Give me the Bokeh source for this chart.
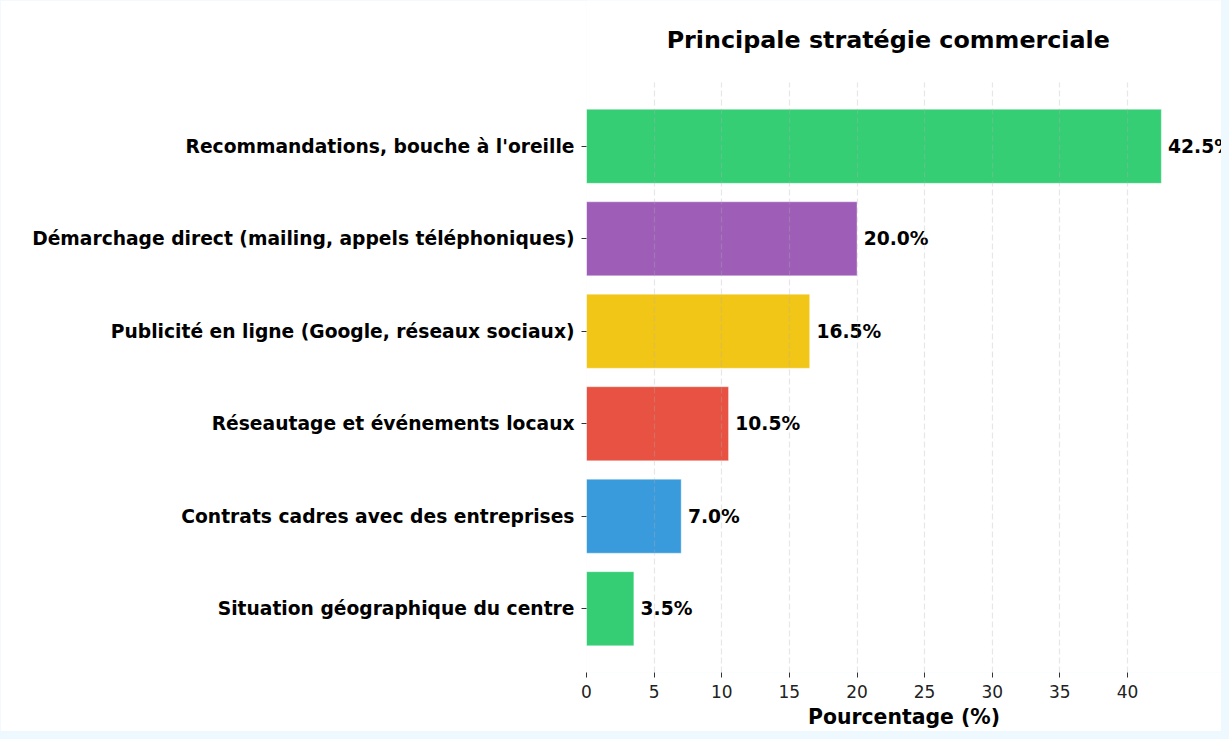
from bokeh.plotting import figure
from bokeh.models import ColumnDataSource, FixedTicker, Range1d, Label, Grid
from bokeh.core.properties import value
from bokeh.embed import file_html
from bokeh.resources import INLINE

title_text = "Principale stratégie commerciale"
x_label = "Pourcentage (%)"
categories = [
    "Situation géographique du centre",
    "Contrats cadres avec des entreprises",
    "Réseautage et événements locaux",
    "Publicité en ligne (Google, réseaux sociaux)",
    "Démarchage direct (mailing, appels téléphoniques)",
    "Recommandations, bouche à l'oreille",
]
values = [3.5, 7.0, 10.5, 16.5, 20.0, 42.5]
colors = ["#2ecc71", "#3498db", "#e74c3c", "#f1c40f", "#9b59b6", "#2ecc71"]
x_ticks = [0, 5, 10, 15, 20, 25, 30, 35, 40]

positions = list(range(len(categories)))
labels = [f"{v:.1f}%" for v in values]
label_x = [v + 0.5 for v in values]

src = ColumnDataSource(dict(y=positions, v=values, c=colors, lab=labels, lx=label_x))

FONT = "DejaVu Sans"

# layout (pixels)
W, H = 1221, 731
LEFT, BOTTOM = 586, 673
PX_PER_X = (1127 - 586) / 40.0        # px per percent
PX_PER_Y = (609 - 146) / 5.0          # px per category step
Y_PAD = 0.69                          # axes margin around bars (category units)
TOP_BAR_PX = 146
TITLE_PX = 40

y_lo = -Y_PAD
y_hi = (len(categories) - 1) + Y_PAD
y_top = (len(categories) - 1) + TOP_BAR_PX / PX_PER_Y   # frame reaches canvas top
axes_x_end = max(values) * 1.05

p = figure(
    width=W, height=H,
    output_backend="svg", toolbar_location=None,
    x_range=Range1d(0, (W - LEFT) / PX_PER_X),
    y_range=Range1d(y_lo, y_top),
    min_border_left=LEFT, min_border_right=0,
    min_border_top=0, min_border_bottom=H - BOTTOM,
)
p.outline_line_color = None
p.background_fill_color = "white"
p.border_fill_color = "white"

p.hbar(y="y", right="v", left=0, height=0.8, fill_color="c", fill_alpha=0.97,
       line_color="white", line_alpha=0.35, line_width=1, source=src)

p.text(x="lx", y="y", text="lab", source=src,
       text_font=value(FONT), text_font_style="bold",
       text_font_size="18.7px", text_baseline="middle",
       text_align="left", text_color="black")

p.add_layout(Label(
    x=axes_x_end / 2, y=(len(categories) - 1) + (TOP_BAR_PX - TITLE_PX) / PX_PER_Y,
    text=title_text, text_font=FONT, text_font_size="23.8px",
    text_font_style="bold", text_color="black",
    text_align="center", text_baseline="middle",
))

p.xaxis.ticker = FixedTicker(ticks=x_ticks)
p.xaxis.axis_label = x_label
p.xaxis.axis_label_text_font = FONT
p.xaxis.axis_label_text_font_size = "20.4px"
p.xaxis.axis_label_text_font_style = "bold"
p.xaxis.axis_label_text_color = "black"
p.xaxis.axis_label_standoff = 4
p.xaxis.major_label_text_font = FONT
p.xaxis.major_label_text_font_size = "17px"
p.xaxis.major_label_text_color = "#222222"
p.xaxis.major_label_standoff = 7

p.yaxis.ticker = FixedTicker(ticks=positions)
p.yaxis.major_label_overrides = {i: c for i, c in enumerate(categories)}
p.yaxis.major_label_text_font = FONT
p.yaxis.major_label_text_font_size = "18.7px"
p.yaxis.major_label_text_font_style = "bold"
p.yaxis.major_label_text_color = "black"
p.yaxis.major_label_standoff = 7

for ax in (p.xaxis, p.yaxis):
    ax.axis_line_color = None
    ax.major_tick_in = 0
    ax.major_tick_out = 5
    ax.major_tick_line_color = "#333333"
    ax.minor_tick_line_color = None

p.ygrid.grid_line_color = None
xg = p.xgrid[0]
xg.level = "annotation"
xg.grid_line_color = "#b0b0b0"
xg.grid_line_dash = "6 3"
xg.grid_line_alpha = 0.3
xg.grid_line_width = 1.2
if "cross_bounds" in xg.properties():
    xg.cross_bounds = (y_lo, y_hi)

html = file_html(p, INLINE)
html = html.replace("</head>", "<style>html, body { background: #eef8ff; }</style></head>", 1)
open("out.html", "w").write(html)
